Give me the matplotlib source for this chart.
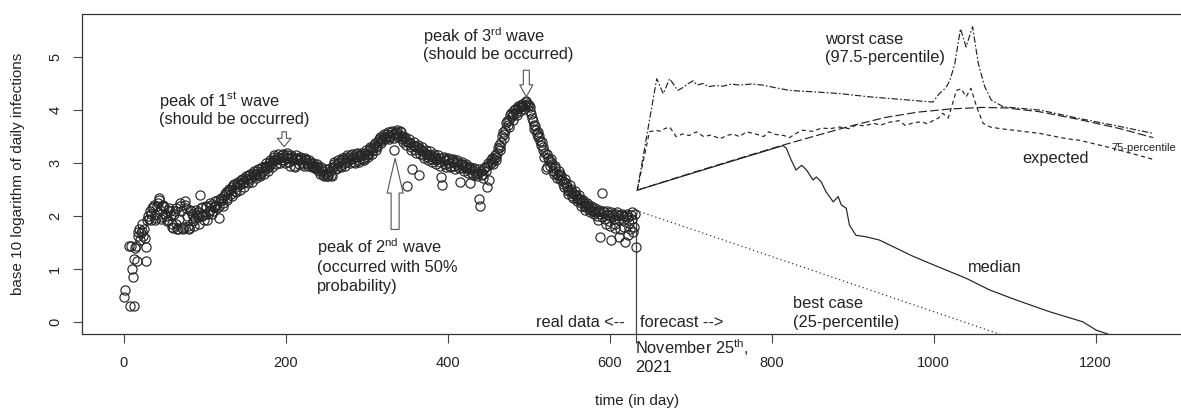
import numpy as np
import matplotlib.pyplot as plt

plt.rcParams['font.family'] = ['Liberation Sans', 'DejaVu Sans']
plt.rcParams['mathtext.fontset'] = 'custom'
plt.rcParams['mathtext.rm'] = 'Liberation Sans'
plt.rcParams['mathtext.it'] = 'Liberation Sans:italic'
plt.rcParams['mathtext.bf'] = 'Liberation Sans:bold'

# observed log10 daily infections, one value per day from day 0 (nan = no cases)
observed = [
    0.48, np.nan, 0.60, np.nan, np.nan, np.nan, 1.43,
    np.nan, 0.30, 1.43, 1.00, 0.85, 1.20, 0.30,
    1.40, 1.43, 1.15, 1.70, 1.62, 1.75, 1.55,
    1.68, 1.72, 1.85, 1.62, 1.75, 1.58, 1.42,
    1.15, 1.93, 2.00, 1.95, 2.10, 1.92, 2.05,
    2.15, 2.18, 2.22, 2.02, 1.92, 1.96, 2.20,
    2.25, 2.30, 2.34, 2.12, 1.95, 1.98, 2.22,
    2.20, 2.18, 2.05, 2.00, 1.90, 1.92, 2.12,
    2.15, 2.10, 2.02, 1.85, 1.80, 1.78, 2.05,
    2.10, 2.15, 1.85, 1.76, 1.75, 1.95, 2.25,
    2.20, 2.10, 1.78, 1.76, 1.80, 2.28, 2.22,
    2.15, 2.00, 1.82, 1.75, 1.78, 2.12, 2.10,
    2.05, 2.00, 1.90, 1.82, 1.95, 2.12, 2.08,
    2.02, 1.98, 1.85, 2.40, 2.15, 2.18, 2.00,
    2.02, 1.92, 2.05, 2.20, 2.18, 1.93, 2.05,
    2.10, 2.12, 2.25, 2.22, 2.05, 2.10, 2.18,
    2.28, 2.20, 2.22, 2.15, 2.30, 1.96, 2.20,
    2.28, 2.35, 2.30, 2.20, 2.25, 2.38, 2.42,
    2.45, 2.35, 2.30, 2.48, 2.52, 2.50, 2.42,
    2.38, 2.55, 2.58, 2.60, 2.48, 2.45, 2.55,
    2.62, 2.65, 2.58, 2.50, 2.60, 2.68, 2.70,
    2.62, 2.55, 2.65, 2.72, 2.75, 2.70, 2.62,
    2.68, 2.78, 2.80, 2.72, 2.65, 2.75, 2.82,
    2.85, 2.78, 2.72, 2.80, 2.85, 2.88, 2.78,
    2.75, 2.82, 2.90, 2.92, 2.85, 2.80, 2.92,
    2.95, 3.00, 2.90, 2.85, 2.95, 3.02, 3.05,
    2.98, 2.92, 3.05, 3.12, 3.15, 3.05, 2.98,
    3.08, 3.12, 3.18, 3.10, 3.00, 3.05, 3.15,
    3.18, 3.12, 3.05, 3.00, 3.10, 3.15, 3.20,
    3.10, 3.02, 2.95, 3.10, 3.15, 3.12, 3.05,
    2.95, 2.92, 3.08, 3.15, 3.10, 3.05, 2.98,
    3.05, 3.12, 3.10, 3.02, 2.98, 2.95, 3.08,
    3.10, 3.05, 3.00, 2.95, 2.98, 3.05, 3.02,
    2.98, 2.92, 2.95, 3.00, 2.95, 2.90, 2.88,
    2.95, 2.98, 2.90, 2.85, 2.80, 2.88, 2.92,
    2.85, 2.78, 2.75, 2.80, 2.88, 2.82, 2.76,
    2.75, 2.82, 2.90, 2.85, 2.78, 2.75, 2.92,
    2.98, 3.02, 2.95, 2.88, 2.90, 3.00, 3.05,
    3.02, 2.95, 2.92, 3.05, 3.10, 3.08, 3.00,
    2.95, 3.02, 3.12, 3.15, 3.10, 3.05, 3.00,
    3.08, 3.15, 3.18, 3.10, 3.02, 3.00, 3.12,
    3.18, 3.20, 3.12, 3.05, 3.02, 3.15, 3.20,
    3.15, 3.08, 3.05, 3.10, 3.20, 3.25, 3.18,
    3.12, 3.15, 3.25, 3.30, 3.28, 3.22, 3.18,
    3.28, 3.35, 3.38, 3.32, 3.25, 3.30, 3.42,
    3.45, 3.50, 3.42, 3.38, 3.45, 3.52, 3.55,
    3.50, 3.45, 3.48, 3.55, 3.58, 3.52, 3.45,
    3.50, 3.58, 3.60, 3.55, 3.48, 3.25, 3.55,
    3.58, 3.62, 3.55, 3.50, 3.52, 3.60, 3.58,
    3.52, 3.45, 3.40, 3.48, 3.50, 3.42, 3.35,
    2.57, 3.40, 3.45, 3.38, 3.30, 3.25, 2.88,
    3.35, 3.40, 3.32, 3.25, 3.20, 3.30, 3.35,
    3.28, 2.77, 3.18, 3.25, 3.30, 3.22, 3.15,
    3.10, 3.20, 3.25, 3.18, 3.12, 3.05, 3.15,
    3.22, 3.15, 3.08, 3.02, 3.12, 3.18, 3.12,
    3.05, 2.98, 3.08, 3.15, 3.10, 3.02, 2.95,
    2.73, 2.58, 3.10, 3.12, 3.05, 2.98, 2.92,
    3.05, 3.10, 3.08, 3.00, 2.92, 2.95, 3.05,
    3.08, 3.02, 2.95, 2.88, 2.98, 3.05, 3.02,
    2.95, 2.90, 2.65, 2.98, 3.02, 2.98, 2.90,
    2.85, 2.92, 2.98, 2.95, 2.88, 2.82, 2.90,
    2.62, 2.92, 2.88, 2.82, 2.78, 2.85, 2.90,
    2.88, 2.80, 2.75, 2.82, 2.33, 2.88, 2.20,
    2.85, 2.78, 2.72, 2.80, 2.90, 2.92, 2.85,
    2.55, 2.95, 3.00, 2.68, 2.98, 3.05, 3.10,
    3.02, 2.98, 3.08, 3.15, 3.12, 3.05, 3.20,
    3.28, 3.35, 3.30, 3.25, 3.40, 3.52, 3.58,
    3.55, 3.48, 3.62, 3.75, 3.80, 3.72, 3.68,
    3.82, 3.90, 3.95, 3.88, 3.82, 3.92, 4.00,
    4.02, 3.95, 3.90, 4.02, 4.08, 4.05, 3.98,
    4.05, 4.10, 4.12, 4.08, 4.02, 4.10, 4.15,
    4.18, 4.12, 4.08, 4.10, 4.05, 3.98, 3.92,
    3.85, 3.80, 3.72, 3.65, 3.70, 3.62, 3.55,
    3.50, 3.58, 3.52, 3.42, 3.35, 3.40, 3.30,
    3.25, 3.12, 3.20, 2.88, 2.92, 3.18, 3.10,
    3.05, 2.95, 3.02, 3.08, 2.98, 2.85, 2.80,
    2.95, 2.90, 2.82, 2.72, 2.78, 2.85, 2.80,
    2.70, 2.75, 2.68, 2.60, 2.55, 2.65, 2.70,
    2.62, 2.55, 2.48, 2.42, 2.50, 2.58, 2.52,
    2.45, 2.38, 2.35, 2.42, 2.48, 2.40, 2.32,
    2.28, 2.35, 2.40, 2.32, 2.25, 2.20, 2.28,
    2.30, 2.25, 2.18, 2.12, 2.20, 2.25, 2.22,
    2.15, 2.08, 2.12, 2.20, 2.18, 2.10, 2.05,
    2.12, 2.15, 2.08, 2.00, 1.92, 2.10, 2.12,
    1.60, 2.05, 2.44, 1.98, 2.10, 2.08, 1.95,
    1.85, 2.05, 2.10, 2.02, 1.90, 1.82, 2.08,
    1.56, 2.05, 2.00, 1.95, 1.85, 1.78, 2.05,
    2.08, 2.02, 1.95, 1.60, 1.75, 2.02, 2.05,
    2.00, 1.92, 1.80, 1.52, 2.00, 2.05, 1.98,
    1.65, 1.88, 1.75, 2.02, 2.08, 1.95, 1.70,
    1.80, 2.05, 1.42,
]
today = 632          # November 25th, 2021
today_level = 2.05

# forecasts
median_days = [634, 700, 760, 814, 818, 824, 830, 837, 843, 851, 855, 861, 867, 876, 882,
               886, 892, 896, 904, 917, 933, 975, 1016, 1040, 1069, 1102, 1143, 1184,
               1201, 1215, 1230]
median = [2.49, 2.80, 3.08, 3.33, 3.28, 3.06, 2.87, 2.96, 2.87, 2.68, 2.74, 2.65, 2.46, 2.27,
          2.37, 2.21, 2.15, 1.83, 1.64, 1.61, 1.55, 1.24, 0.98, 0.83, 0.61, 0.42, 0.20, 0.01,
          -0.15, -0.22, -0.40]

expected_days = [634, 700, 760, 814, 860, 900, 940, 980, 1020, 1060, 1090, 1130, 1180, 1230, 1271]
expected = [2.49, 2.81, 3.09, 3.34, 3.54, 3.71, 3.86, 3.96, 4.02, 4.05, 4.04, 3.97, 3.82, 3.65, 3.48]

worst_days = [634, 658, 666, 674, 684, 690, 697, 703, 708, 715, 722, 730, 740, 750, 760, 775,
              789, 805, 822, 855, 884, 920, 960, 999, 1007, 1015, 1020, 1026, 1033, 1040,
              1048, 1055, 1063, 1071, 1086, 1131, 1180, 1230, 1271]
worst = [2.49, 4.59, 4.31, 4.59, 4.37, 4.42, 4.50, 4.55, 4.47, 4.50, 4.44, 4.46, 4.45, 4.49,
         4.47, 4.49, 4.47, 4.42, 4.37, 4.34, 4.31, 4.25, 4.20, 4.15, 4.31, 4.42, 4.56, 4.87,
         5.53, 5.19, 5.57, 4.88, 4.44, 4.19, 4.06, 4.00, 3.84, 3.69, 3.56]

p75_days = [634, 649, 657, 662, 668, 674, 682, 690, 698, 707, 716, 725, 736, 745, 752, 760,
            769, 780, 790, 796, 805, 815, 822, 830, 838, 850, 862, 872, 884, 895, 905, 915,
            925, 935, 945, 957, 965, 975, 985, 992, 999, 1006, 1011, 1018, 1028, 1034, 1040,
            1046, 1053, 1061, 1070, 1082, 1131, 1164, 1180, 1221, 1271]
p75 = [2.49, 3.59, 3.62, 3.60, 3.65, 3.68, 3.50, 3.55, 3.52, 3.59, 3.50, 3.53, 3.46, 3.52,
       3.55, 3.50, 3.59, 3.55, 3.50, 3.59, 3.54, 3.52, 3.48, 3.56, 3.62, 3.60, 3.66, 3.65,
       3.68, 3.65, 3.72, 3.70, 3.75, 3.72, 3.77, 3.80, 3.71, 3.76, 3.78, 3.74, 3.80, 3.85,
       3.94, 3.85, 4.37, 4.40, 4.25, 4.41, 4.06, 3.75, 3.68, 3.65, 3.56, 3.46, 3.43, 3.28, 3.07]

best_days = [632, 700, 800, 900, 1000, 1100]
best = [2.11, 1.76, 1.24, 0.72, 0.20, -0.32]

xticks = [0, 200, 400, 600, 800, 1000, 1200]
yticks = [0, 1, 2, 3, 4, 5]

ink = '#222222'
W, H = 1181, 408
fig = plt.figure(figsize=(W / 100, H / 100), dpi=100)
ax = fig.add_axes([82.5 / W, 74 / H, 1112 / W, 320 / H])
ax.set_xlim(-51, 1322)
ax.set_ylim(-0.22, 5.81)

days = np.arange(len(observed))
ax.plot(days, observed, 'o', ms=6.6, mfc='none', mec='#262626', mew=0.85, zorder=3)

lw = 0.85
ax.plot(median_days, median, color=ink, lw=lw)
ax.plot(expected_days, expected, color=ink, lw=lw, linestyle=(0, (7.2, 2.7)))
ax.plot(worst_days, worst, color=ink, lw=lw, linestyle=(0, (5.4, 1.8, 1.4, 1.8)))
ax.plot(p75_days, p75, color=ink, lw=lw, linestyle=(0, (3.6, 2.7)))
ax.plot(best_days, best, color=ink, lw=lw, linestyle=(0, (1, 2.5)))
ax.vlines(today, -0.22, today_level, color='#444444', lw=0.9)

for s in ax.spines.values():
    s.set_color('#333333')
    s.set_linewidth(0.9)
ax.spines['right'].set_visible(False)

ax.set_xticks(xticks)
ax.set_xticks([today], minor=True)
ax.set_yticks(yticks)
ax.tick_params(axis='both', which='both', length=6.5, width=0.8, color='#444444',
               labelsize=10.5, labelcolor=ink)
ax.tick_params(axis='x', pad=9.5)
ax.tick_params(axis='y', pad=8, labelrotation=90)
for t in ax.get_yticklabels():
    t.set_va('center')

ax.set_xlabel('time (in day)', fontsize=11, color=ink)
ax.xaxis.set_label_coords(0.4987, -0.186)
ax.set_ylabel('base 10 logarithm of daily infections', fontsize=11, color=ink)
ax.yaxis.set_label_coords(-0.0513, 0.5)

fs = 11.8
def note(x, y, s, size=fs, ha='left'):
    ax.text(x, y, s, fontsize=size, color=ink, ha=ha, va='baseline', clip_on=False)

note(43.6, 4.07, r'peak of 1$^{\mathrm{st}}$ wave')
note(43.6, 3.73, '(should be occurred)')
note(369.5, 5.29, r'peak of 3$^{\mathrm{rd}}$ wave')
note(369.5, 4.96, '(should be occurred)')
note(238, 1.31, r'peak of 2$^{\mathrm{nd}}$ wave')
note(238, 0.95, '(occurred with 50%')
note(238, 0.59, 'probability)')
note(866, 5.24, 'worst case')
note(866, 4.90, '(97.5-percentile)')
note(1109, 3.00, 'expected')
note(1220, 3.22, '75-percentile', size=8)
note(1042, 0.95, 'median')
note(826, 0.27, 'best case')
note(826, -0.09, '(25-percentile)')
note(618.5, -0.09, 'real data <--', ha='right')
note(637, -0.09, 'forecast -->')
note(631, -0.60, r'November 25$^{\mathrm{th}}$,')
note(631, -0.93, '2021')


def hollow_arrow(x, y_tail, y_tip, head_len, head_w, tail_w):
    style = f'simple,head_length={head_len},head_width={head_w},tail_width={tail_w}'
    ax.annotate('', xy=(x, y_tip), xytext=(x, y_tail),
                arrowprops=dict(arrowstyle=style, fc='white', ec='#555555', lw=0.8,
                                shrinkA=0, shrinkB=0, mutation_scale=1))


hollow_arrow(198, 3.59, 3.31, 6.0, 10.0, 3.2)
hollow_arrow(335, 1.75, 3.09, 25.0, 11.5, 5.8)
hollow_arrow(497, 4.75, 4.25, 8.6, 9.4, 4.3)

fig.savefig('out.png', dpi=100)
